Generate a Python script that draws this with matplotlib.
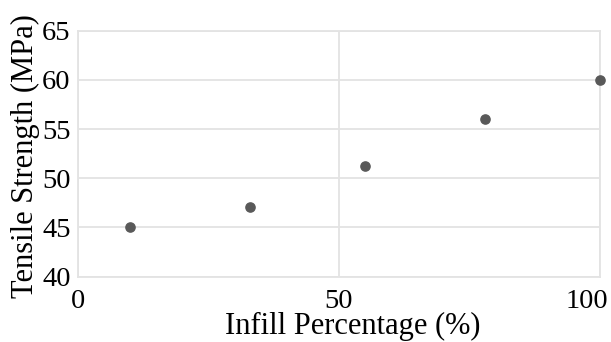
import matplotlib.pyplot as plt
from matplotlib.transforms import ScaledTranslation

# infill (%) vs tensile strength (MPa)
infill = [10, 33, 55, 78, 100]
strength = [45, 47.1, 51.2, 56, 60]

x_ticks = [0, 50, 100]
y_ticks = [40, 45, 50, 55, 60, 65]

plt.rcParams['font.family'] = ['Liberation Serif', 'DejaVu Serif']

fig = plt.figure(figsize=(6.11, 3.42), dpi=100)
ax = fig.add_axes([77.5 / 611, 1 - 276.7 / 342, 522.5 / 611, 246 / 342])

ax.scatter(infill, strength, s=44, color='#595959', zorder=3, clip_on=False)

ax.set_xlim(0, 100)
ax.set_ylim(40, 65)
ax.set_xticks(x_ticks)
ax.set_yticks(y_ticks)
ax.grid(True, color='#e3e3e3', linewidth=1.3)
ax.set_axisbelow(True)
for s in ax.spines.values():
    s.set_color('#e3e3e3')
    s.set_linewidth(1.3)

ax.tick_params(axis='both', length=0, labelsize=20.5, colors='black')
ax.tick_params(axis='y', pad=5)
ax.tick_params(axis='x', pad=9)

# last x label shifted left so it stays inside the figure
lbl = ax.get_xticklabels()[-1]
lbl.set_transform(lbl.get_transform() + ScaledTranslation(-0.13, 0, fig.dpi_scale_trans))

ax.set_ylabel('Tensile Strength (MPa)', fontsize=22)
ax.yaxis.set_label_coords(-0.072, 0.49)
ax.set_xlabel('Infill Percentage (%)', fontsize=22)
ax.xaxis.set_label_coords(0.527, -0.145)

fig.savefig('out.png', dpi=100)
